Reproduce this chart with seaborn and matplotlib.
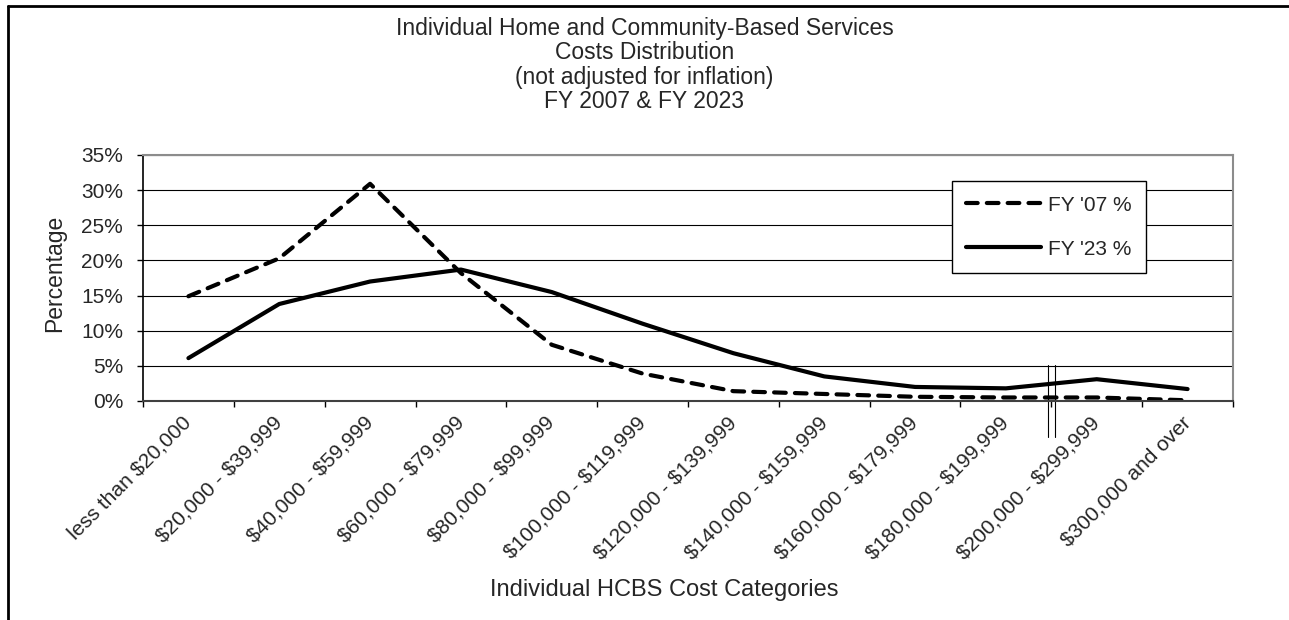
import matplotlib.pyplot as plt
from matplotlib.lines import Line2D
from matplotlib.ticker import PercentFormatter
import pandas as pd
import seaborn as sns

# cost categories and the share of individuals in each (percent)
categories = ["less than $20,000", "$20,000 - $39,999", "$40,000 - $59,999",
              "$60,000 - $79,999", "$80,000 - $99,999", "$100,000 - $119,999",
              "$120,000 - $139,999", "$140,000 - $159,999", "$160,000 - $179,999",
              "$180,000 - $199,999", "$200,000 - $299,999", "$300,000 and over"]
fy07_pct = [14.9, 20.3, 30.9, 18.2, 8.0, 3.9, 1.4, 1.0, 0.6, 0.5, 0.5, 0.1]
fy23_pct = [6.1, 13.8, 17.0, 18.7, 15.5, 11.0, 6.8, 3.5, 2.0, 1.8, 3.1, 1.7]
series_names = ["FY '07 %", "FY '23 %"]

df = pd.DataFrame({
    "category": categories * 2,
    "pct": fy07_pct + fy23_pct,
    "series": [series_names[0]] * len(categories) + [series_names[1]] * len(categories),
})

sns.set_style("white")
plt.rcParams["font.family"] = ["Liberation Sans", "DejaVu Sans"]

fig = plt.figure(figsize=(12.89, 6.2), dpi=100)
ax = fig.add_axes([143 / 1289, 1 - 401 / 620, 1090 / 1289, 246 / 620])

sns.lineplot(data=df, x="category", y="pct", hue="series", style="series",
             hue_order=series_names, style_order=series_names,
             palette=["black", "black"],
             dashes={series_names[0]: (2.8, 2.2), series_names[1]: ""},
             linewidth=3, sort=False, legend=False, ax=ax)
for ln in ax.lines:
    ln.set_dash_capstyle("round")
    ln.set_solid_capstyle("round")

n = len(categories)

# axis break marks between $180k and $200k categories
brk = categories.index("$200,000 - $299,999") - 0.5
trans = ax.get_xaxis_transform()
for dx in (-0.04, 0.04):
    ax.plot([brk + dx, brk + dx], [-0.146, 0.146], transform=trans,
            color="black", lw=0.8, clip_on=False)

ax.set_xlim(-0.5, n - 0.5)
ax.set_ylim(0, 35)
ax.set_xticks([i - 0.5 for i in range(n + 1)], labels=[""] * (n + 1))
# escape $ so it is not read as mathtext
tick_labels = [c.replace("$", r"\$") for c in categories]
ax.set_xticks(range(n), labels=tick_labels, minor=True)
for lab in ax.get_xticklabels(minor=True):
    lab.set_rotation(45)
    lab.set_ha("right")
    lab.set_va("center")
    lab.set_rotation_mode("anchor")
ax.tick_params(axis="x", which="major", bottom=True, length=4.3, width=1, color="black")
ax.tick_params(axis="x", which="minor", bottom=True, length=0, pad=13.5, labelsize=15)

ax.set_yticks(range(0, 36, 5))
ax.yaxis.set_major_formatter(PercentFormatter(decimals=0))
ax.tick_params(axis="y", left=True, length=4.3, width=1, color="black", pad=10, labelsize=15)

ax.yaxis.grid(True, color="black", linewidth=0.8)
ax.set_axisbelow(True)

ax.spines["left"].set_color("black")
ax.spines["left"].set_linewidth(1.2)
ax.spines["bottom"].set_color("#404040")
ax.spines["bottom"].set_linewidth(1.5)
for s in ("top", "right"):
    ax.spines[s].set_color("#8c8c8c")
    ax.spines[s].set_linewidth(1.5)

ax.set_xlabel("Individual HCBS Cost Categories", fontsize=17)
ax.xaxis.set_label_coords(0.478, -0.768)
ax.xaxis.label.set_va("center")
ax.set_ylabel("Percentage", fontsize=16.5)
ax.yaxis.set_label_coords(-0.081, 0.52)
ax.yaxis.label.set_va("center")

leg = ax.legend(ax.lines[:2], series_names, loc="upper left",
                bbox_to_anchor=(0.742, 0.894), borderaxespad=0, frameon=True,
                fancybox=False, edgecolor="black", framealpha=1, fontsize=15,
                handlelength=3.6, handletextpad=0.3, borderpad=0.7, labelspacing=1.2)
leg.get_frame().set_linewidth(1)

fig.suptitle("Individual Home and Community-Based Services\nCosts Distribution\n"
             "(not adjusted for inflation)\nFY 2007 & FY 2023",
             x=0.5, y=1 - 17 / 620, va="top", fontsize=16.5, linespacing=1.08)

# outer chart frame (left and top edges visible)
fig.add_artist(Line2D([8 / 1289, 8 / 1289], [0, 1 - 6 / 620], color="black", lw=2))
fig.add_artist(Line2D([8 / 1289, 1], [1 - 6 / 620, 1 - 6 / 620], color="black", lw=2))

fig.savefig("out.png", dpi=100)
